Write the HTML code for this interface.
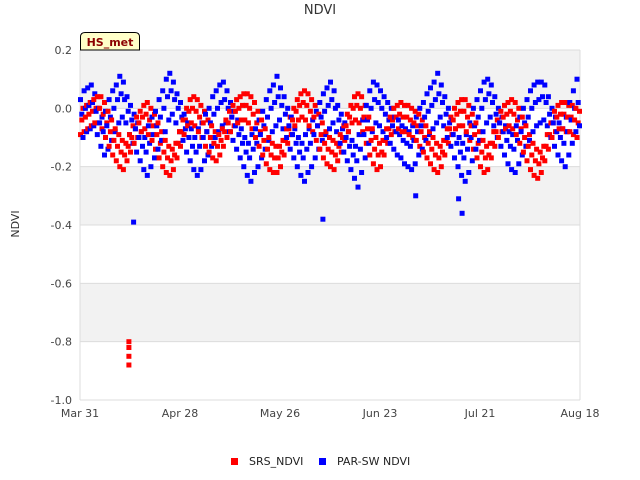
<!DOCTYPE html>
<html><head><meta charset="utf-8"><style>
body{margin:0;background:#fff;}
svg{display:block;font-family:"DejaVu Sans","Liberation Sans",sans-serif;}
</style></head><body>
<svg id="chart" width="640" height="480">
<rect x="0" y="0" width="640" height="480" fill="#fff"/>
<g id="bands"></g>
<g id="grid"></g>
<g id="marks"></g>
<g id="axes"></g>
<text x="320" y="14" text-anchor="middle" font-size="13" fill="#333">NDVI</text>
<text transform="translate(19,224) rotate(-90)" text-anchor="middle" font-size="11" fill="#333">NDVI</text>
<g>
<path d="M80.5,50 L80.5,37 Q80.5,32.5 85,32.5 L135,32.5 Q139.5,32.5 139.5,37 L139.5,50 Z" fill="#ffffc8" stroke="#000" stroke-width="1"/>
<text x="110" y="46" text-anchor="middle" font-size="11" font-weight="bold" fill="#8b0000">HS_met</text>
</g>
<g>
<g><rect x="231" y="458" width="7" height="7" fill="#f00"/><text x="249" y="465" font-size="11" fill="#222">SRS_NDVI</text></g>
<g><rect x="319" y="458" width="7" height="7" fill="#00f"/><text x="337" y="465" font-size="11" fill="#222">PAR-SW NDVI</text></g>
</g>
</svg>
<script>
const xTickLabels=["Mar 31","Apr 28","May 26","Jun 23","Jul 21","Aug 18"];
const xTickDays=[0,28,56,84,112,140];
const yTicks=[0.2,0,-0.2,-0.4,-0.6,-0.8,-1.0];
const yTickLabels=["0.2","0.0","-0.2","-0.4","-0.6","-0.8","-1.0"];
const blueHi=[0.03,0.06,0.07,0.08,0.05,0.0,-0.03,-0.01,0.03,0.06,0.08,0.11,0.09,0.04,0.01,-0.02,-0.05,-0.08,-0.10,-0.06,-0.03,-0.01,0.03,0.06,0.10,0.12,0.09,0.05,0.02,-0.02,-0.05,-0.07,-0.10,-0.07,-0.05,-0.02,0.0,0.04,0.06,0.08,0.09,0.06,0.02,-0.01,-0.04,-0.07,-0.10,-0.12,-0.09,-0.07,-0.04,-0.01,0.03,0.06,0.08,0.11,0.07,0.04,0.0,-0.03,-0.07,-0.10,-0.12,-0.09,-0.07,-0.04,-0.01,0.02,0.05,0.07,0.09,0.06,0.01,-0.02,-0.05,-0.08,-0.11,-0.13,-0.09,-0.04,0.01,0.06,0.09,0.08,0.06,0.04,0.02,0.0,-0.03,-0.04,-0.06,-0.07,-0.08,-0.06,-0.03,0.0,0.02,0.05,0.07,0.09,0.12,0.08,0.04,0.0,-0.04,-0.07,-0.10,-0.12,-0.09,-0.05,0.0,0.03,0.06,0.09,0.10,0.08,0.04,0.0,-0.03,-0.06,-0.08,-0.09,-0.06,-0.03,0.0,0.03,0.06,0.08,0.09,0.09,0.08,0.04,0.0,-0.03,-0.05,-0.07,-0.03,0.02,0.06,0.10];
const blueMid=[-0.02,0.0,0.01,0.02,-0.01,-0.05,-0.08,-0.06,-0.03,0.0,0.03,0.05,0.03,-0.01,-0.04,-0.07,-0.10,-0.13,-0.15,-0.12,-0.09,-0.06,-0.03,0.0,0.04,0.06,0.03,0.0,-0.03,-0.07,-0.10,-0.13,-0.15,-0.13,-0.10,-0.08,-0.05,-0.02,0.0,0.02,0.03,0.0,-0.03,-0.06,-0.09,-0.12,-0.15,-0.17,-0.14,-0.12,-0.09,-0.06,-0.03,0.0,0.02,0.04,0.01,-0.02,-0.06,-0.09,-0.12,-0.15,-0.17,-0.14,-0.12,-0.09,-0.06,-0.03,-0.01,0.01,0.03,0.0,-0.04,-0.07,-0.10,-0.13,-0.16,-0.18,-0.14,-0.09,-0.04,0.0,0.03,0.02,0.0,-0.02,-0.04,-0.06,-0.08,-0.09,-0.11,-0.12,-0.13,-0.11,-0.08,-0.06,-0.03,-0.01,0.01,0.03,0.05,0.02,-0.02,-0.05,-0.09,-0.12,-0.15,-0.17,-0.14,-0.10,-0.06,-0.03,0.0,0.03,0.05,0.02,-0.02,-0.05,-0.08,-0.11,-0.13,-0.14,-0.11,-0.08,-0.05,-0.03,0.0,0.02,0.03,0.04,0.02,-0.02,-0.05,-0.08,-0.10,-0.12,-0.08,-0.04,0.0,0.02];
const blueLo=[-0.10,-0.08,-0.07,-0.06,-0.09,-0.13,-0.16,-0.14,-0.11,-0.08,-0.05,-0.03,-0.05,-0.09,-0.12,-0.15,-0.18,-0.21,-0.23,-0.20,-0.17,-0.14,-0.11,-0.08,-0.04,-0.02,-0.05,-0.08,-0.11,-0.15,-0.18,-0.21,-0.23,-0.21,-0.18,-0.16,-0.13,-0.10,-0.08,-0.06,-0.05,-0.08,-0.11,-0.14,-0.17,-0.20,-0.23,-0.25,-0.22,-0.20,-0.17,-0.14,-0.11,-0.08,-0.06,-0.04,-0.07,-0.10,-0.14,-0.17,-0.20,-0.23,-0.25,-0.22,-0.20,-0.17,-0.14,-0.11,-0.09,-0.07,-0.05,-0.08,-0.12,-0.15,-0.18,-0.21,-0.24,-0.27,-0.22,-0.17,-0.12,-0.08,-0.05,-0.06,-0.08,-0.10,-0.12,-0.14,-0.16,-0.17,-0.19,-0.20,-0.21,-0.19,-0.16,-0.14,-0.11,-0.09,-0.07,-0.05,-0.03,-0.06,-0.10,-0.13,-0.17,-0.20,-0.23,-0.25,-0.22,-0.18,-0.14,-0.11,-0.08,-0.05,-0.03,-0.06,-0.10,-0.13,-0.16,-0.19,-0.21,-0.22,-0.19,-0.16,-0.13,-0.11,-0.08,-0.06,-0.05,-0.04,-0.06,-0.10,-0.13,-0.16,-0.18,-0.20,-0.16,-0.12,-0.08,-0.06];
const redHi=[0.0,0.01,0.02,0.03,0.04,0.04,0.02,-0.01,-0.04,-0.07,-0.09,-0.11,-0.12,-0.09,-0.06,-0.03,-0.01,0.01,0.02,0.0,-0.02,-0.05,-0.08,-0.11,-0.13,-0.14,-0.12,-0.08,-0.04,0.0,0.03,0.04,0.03,0.01,-0.01,-0.04,-0.06,-0.08,-0.09,-0.07,-0.04,-0.01,0.01,0.03,0.04,0.05,0.05,0.04,0.02,-0.01,-0.04,-0.07,-0.10,-0.12,-0.13,-0.13,-0.11,-0.07,-0.03,0.0,0.03,0.05,0.06,0.05,0.03,0.01,-0.02,-0.05,-0.08,-0.10,-0.11,-0.12,-0.09,-0.06,-0.02,0.01,0.04,0.05,0.04,0.01,-0.03,-0.07,-0.10,-0.12,-0.11,-0.07,-0.03,0.0,0.01,0.02,0.01,0.01,0.0,-0.01,-0.02,-0.04,-0.06,-0.08,-0.10,-0.12,-0.13,-0.11,-0.07,-0.03,0.0,0.02,0.03,0.03,0.01,-0.02,-0.05,-0.08,-0.11,-0.13,-0.12,-0.08,-0.04,-0.01,0.01,0.02,0.03,0.02,0.0,-0.03,-0.06,-0.09,-0.12,-0.14,-0.15,-0.13,-0.09,-0.05,-0.01,0.01,0.02,0.02,0.01,0.01,0.0,-0.01];
const redMid=[-0.04,-0.03,-0.02,-0.01,0.0,0.0,-0.02,-0.05,-0.08,-0.11,-0.13,-0.15,-0.16,-0.13,-0.10,-0.07,-0.05,-0.03,-0.02,-0.04,-0.06,-0.09,-0.12,-0.15,-0.17,-0.18,-0.16,-0.12,-0.08,-0.04,-0.01,0.0,-0.01,-0.03,-0.05,-0.08,-0.10,-0.12,-0.13,-0.11,-0.08,-0.05,-0.03,-0.01,0.0,0.01,0.01,0.0,-0.02,-0.05,-0.08,-0.11,-0.14,-0.16,-0.17,-0.17,-0.15,-0.11,-0.07,-0.04,-0.01,0.01,0.02,0.01,-0.01,-0.03,-0.06,-0.09,-0.12,-0.14,-0.15,-0.16,-0.13,-0.10,-0.06,-0.03,0.0,0.01,0.0,-0.03,-0.07,-0.11,-0.14,-0.16,-0.15,-0.11,-0.07,-0.04,-0.03,-0.02,-0.03,-0.03,-0.04,-0.05,-0.06,-0.08,-0.10,-0.12,-0.14,-0.16,-0.17,-0.15,-0.11,-0.07,-0.04,-0.02,-0.01,-0.01,-0.03,-0.06,-0.09,-0.12,-0.15,-0.17,-0.16,-0.12,-0.08,-0.05,-0.03,-0.02,-0.01,-0.02,-0.04,-0.07,-0.10,-0.13,-0.16,-0.18,-0.19,-0.17,-0.13,-0.09,-0.05,-0.03,-0.02,-0.02,-0.03,-0.03,-0.04,-0.05];
const redLo=[-0.09,-0.08,-0.07,-0.06,-0.05,-0.05,-0.07,-0.10,-0.13,-0.16,-0.18,-0.20,-0.21,-0.18,-0.15,-0.12,-0.10,-0.08,-0.07,-0.09,-0.11,-0.14,-0.17,-0.20,-0.22,-0.23,-0.21,-0.17,-0.13,-0.09,-0.06,-0.05,-0.06,-0.08,-0.10,-0.13,-0.15,-0.17,-0.18,-0.16,-0.13,-0.10,-0.08,-0.06,-0.05,-0.04,-0.04,-0.05,-0.07,-0.10,-0.13,-0.16,-0.19,-0.21,-0.22,-0.22,-0.20,-0.16,-0.12,-0.09,-0.06,-0.04,-0.03,-0.04,-0.06,-0.08,-0.11,-0.14,-0.17,-0.19,-0.20,-0.21,-0.18,-0.15,-0.11,-0.08,-0.05,-0.04,-0.05,-0.08,-0.12,-0.16,-0.19,-0.21,-0.20,-0.16,-0.12,-0.09,-0.08,-0.07,-0.08,-0.08,-0.09,-0.10,-0.11,-0.13,-0.15,-0.17,-0.19,-0.21,-0.22,-0.20,-0.16,-0.12,-0.09,-0.07,-0.06,-0.06,-0.08,-0.11,-0.14,-0.17,-0.20,-0.22,-0.21,-0.17,-0.13,-0.10,-0.08,-0.07,-0.06,-0.07,-0.09,-0.12,-0.15,-0.18,-0.21,-0.23,-0.24,-0.22,-0.18,-0.14,-0.10,-0.08,-0.07,-0.07,-0.08,-0.08,-0.09,-0.10];
const redOutlierDays=[13.7,13.7,13.7,13.7];
const redOutlierVals=[-0.80,-0.82,-0.85,-0.88];
const blueOutlierDays=[15,68,107,94,106];
const blueOutlierVals=[-0.39,-0.38,-0.36,-0.30,-0.31];

const NS="http://www.w3.org/2000/svg";
const X0=80,X1=580,Y0=50,Y1=400,DMAX=140,VMAX=0.2,VMIN=-1.0;
function xs(d){return X0+(d/DMAX)*(X1-X0);}
function ys(v){return Y0+(VMAX-v)/(VMAX-VMIN)*(Y1-Y0);}
function mk(tag,attrs,parent){const e=document.createElementNS(NS,tag);for(const k in attrs)e.setAttribute(k,attrs[k]);parent.appendChild(e);return e;}

const bands=document.getElementById('bands');
for(let i=0;i<yTicks.length-1;i++){
  if(i%2===0){
    const r=mk('rect',{x:X0,y:ys(yTicks[i]),width:X1-X0,height:ys(yTicks[i+1])-ys(yTicks[i]),fill:'#f2f2f2'},bands);
    
    
  }
}
const grid=document.getElementById('grid');
const axes=document.getElementById('axes');
yTicks.forEach((v,i)=>{
  const l=mk('line',{x1:X0,x2:X1,y1:ys(v),y2:ys(v),stroke:'#dcdcdc','stroke-width':1},grid);
  
  
  const t=mk('text',{x:X0-8,y:ys(v)+4,'text-anchor':'end','font-size':11,fill:'#444'},axes);
  t.textContent=yTickLabels[i];
  
  
});
mk('line',{x1:X0,x2:X0,y1:Y0,y2:Y1,stroke:'#dcdcdc'},grid);
mk('line',{x1:X1,x2:X1,y1:Y0,y2:Y1,stroke:'#dcdcdc'},grid);
xTickDays.forEach((d,i)=>{
  const t=mk('text',{x:xs(d),y:Y1+17,'text-anchor':'middle','font-size':11,fill:'#444'},axes);
  t.textContent=xTickLabels[i];
  
  
});

const marks=document.getElementById('marks');
function pt(d,v,c){
  const r=mk('rect',{x:(xs(d)-2.5).toFixed(1),y:(ys(v)-2.5).toFixed(1),width:5,height:5,fill:c},marks);
  
  
}
for(let d=0;d<blueMid.length;d++){
  pt(d+0.15,blueHi[d],'#00f');
  pt(d+0.15,redLo[d],'#f00');
  pt(d+0.5,redMid[d],'#f00');
  pt(d+0.5,blueMid[d],'#00f');
  pt(d+0.85,blueLo[d],'#00f');
  pt(d+0.85,redHi[d],'#f00');
}
redOutlierDays.forEach((d,i)=>pt(d,redOutlierVals[i],'#f00'));
blueOutlierDays.forEach((d,i)=>pt(d,blueOutlierVals[i],'#00f'));
</script>
</body></html>
